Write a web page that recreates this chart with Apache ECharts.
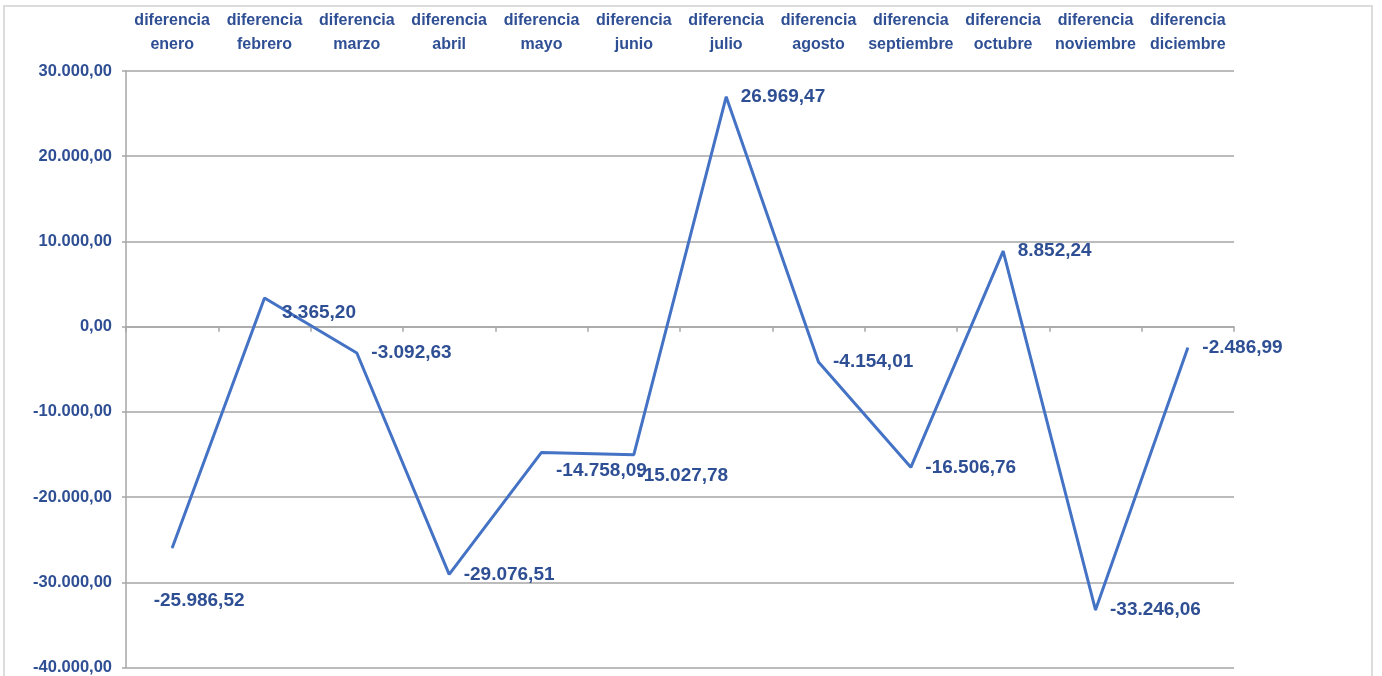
<!DOCTYPE html>
<html>
<head>
<meta charset="utf-8">
<script src="https://cdn.jsdelivr.net/npm/echarts@6/dist/echarts.min.js"></script>
<style>
  html, body { margin: 0; padding: 0; background: #fff; }
  #frame { position: absolute; left: 3px; top: 5px; width: 1370px; height: 690px; border: 2px solid #dcdcdc; box-sizing: border-box; }
  #chart { position: absolute; left: 0; top: 0; width: 1382px; height: 676px; }
</style>
</head>
<body>
<div id="frame"></div>
<div id="chart"></div>
<script>
  // meses (dos líneas por etiqueta)
  var meses = ['enero', 'febrero', 'marzo', 'abril', 'mayo', 'junio', 'julio',
    'agosto', 'septiembre', 'octubre', 'noviembre', 'diciembre']
  var diferencias = [-25986.52, 3365.20, -3092.63, -29076.51, -14758.09, -15027.78,
    26969.47, -4154.01, -16506.76, 8852.24, -33246.06, -2486.99]
  var yMin = -40000
  var yMax = 30000
  var yStep = 10000

  var categorias = meses.map(function (m) { return 'diferencia\n' + m })

  // formato 1.234,56
  function fmt(v) {
    var s = Math.abs(v).toFixed(2).split('.')
    var ent = s[0].replace(/\B(?=(\d{3})+(?!\d))/g, '.')
    return (v < 0 ? '-' : '') + ent + ',' + s[1]
  }

  var azul = '#2f4f94'
  var fuente = '"Liberation Sans Narrow", "Arial Narrow", "Liberation Sans", sans-serif'

  // ajustes de etiquetas que se solapan (como en la hoja original)
  var ajustes = { 0: [-33, 53], 1: [3, 15], 4: [0, 18], 5: [-11, 21] }

  var datos = diferencias.map(function (v, i) {
    var item = { value: v }
    if (ajustes[i]) item.label = { offset: ajustes[i] }
    return item
  })

  var chart = echarts.init(document.getElementById('chart'))
  var option = {
    animation: false,
    grid: { left: 126, right: 148, top: 71, bottom: 8 },
    xAxis: [
      {
        type: 'category',
        data: categorias,
        position: 'top',
        axisLine: { show: false, onZero: false },
        axisTick: { show: false },
        axisLabel: {
          interval: 0,
          margin: 14,
          color: azul,
          fontFamily: fuente,
          fontWeight: 'bold',
          fontSize: 16,
          lineHeight: 24,
        },
      },
      {
        type: 'category',
        data: categorias,
        axisLine: { onZero: true, lineStyle: { color: '#a6a6a6', width: 1.5 } },
        axisTick: { show: true, length: 5, lineStyle: { color: '#a6a6a6', width: 1.5 } },
        axisLabel: { show: false },
      },
    ],
    yAxis: {
      type: 'value',
      min: yMin,
      max: yMax,
      interval: yStep,
      axisLine: { show: true, lineStyle: { color: '#a6a6a6', width: 1.5 } },
      axisTick: { show: true, length: 4, lineStyle: { color: '#a6a6a6', width: 1.5 } },
      splitLine: { lineStyle: { color: '#a6a6a6', width: 1.5 } },
      axisLabel: {
        margin: 14,
        color: azul,
        fontFamily: fuente,
        fontWeight: 'bold',
        fontSize: 16.5,
        formatter: function (v) { return fmt(v) },
      },
    },
    series: [
      {
        type: 'line',
        xAxisIndex: 1,
        data: datos,
        symbol: 'circle',
        symbolSize: 1,
        itemStyle: { color: '#4472c4' },
        lineStyle: { color: '#4472c4', width: 3 },
        label: {
          show: true,
          position: 'right',
          distance: 14,
          color: azul,
          fontFamily: fuente,
          fontWeight: 'bold',
          fontSize: 19,
          formatter: function (p) { return fmt(p.value) },
        },
      },
    ],
  }
  chart.setOption(option)
</script>
</body>
</html>
